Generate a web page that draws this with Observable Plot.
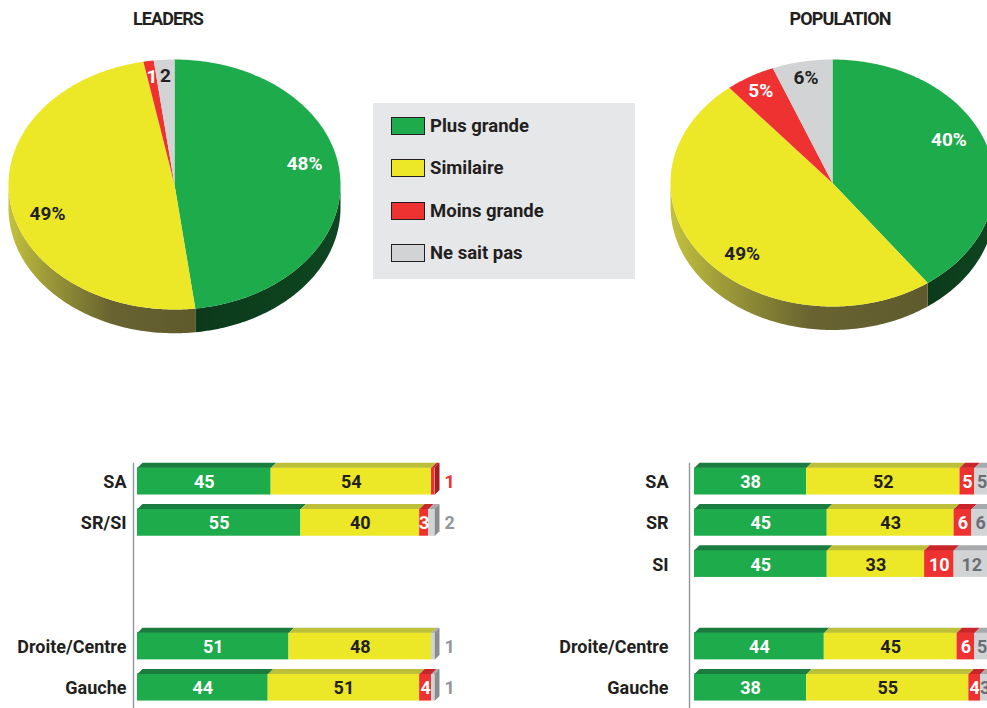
<!DOCTYPE html>
<html>
<head>
<meta charset="utf-8">
<script src="https://cdn.jsdelivr.net/npm/d3@7"></script>
<script src="https://cdn.jsdelivr.net/npm/@observablehq/plot@0.6"></script>
<style>
html, body { margin: 0; padding: 0; background: #fff; width: 987px; height: 708px; overflow: hidden; }
#root { position: relative; width: 987px; height: 708px; font-family: Roboto, "Noto Sans", sans-serif; color: #231f20; }
.abs { position: absolute; }
.title { top: 8px; font-weight: 700; font-size: 18px; letter-spacing: -0.9px; transform: translateX(-50%); white-space: nowrap; line-height: 22px; }
.legend { left: 373px; top: 103px; width: 262px; height: 176px; background: #e6e7e8; }
.item { position: absolute; left: 18px; height: 24px; display: flex; align-items: center; font-weight: 700; font-size: 18.5px; white-space: nowrap; }
.sw { width: 32px; height: 16px; border: 1px solid #231f20; margin-right: 5px; }
svg { overflow: visible; }
</style>
</head>
<body>
<div id="root"></div>
<script>
// ---------- DATA ----------
const categories = ["Plus grande", "Similaire", "Moins grande", "Ne sait pas"];
const pieTitles = ["LEADERS", "POPULATION"];
const pieLeaders = [48, 49, 1, 2];
const piePopulation = [40, 49, 5, 6];

const leadersGroups = [["SA", "SR/SI"], ["Droite/Centre", "Gauche"]];
const leadersPlusGrande   = [45, 55, 51, 44];
const leadersSimilaire    = [54, 40, 48, 51];
const leadersMoinsGrande  = [1, 3, 0, 4];
const leadersNeSaitPas    = [0, 2, 1, 1];

const populationGroups = [["SA", "SR", "SI"], ["Droite/Centre", "Gauche"]];
const populationPlusGrande  = [38, 45, 45, 44, 38];
const populationSimilaire   = [52, 43, 33, 45, 55];
const populationMoinsGrande = [5, 6, 10, 6, 4];
const populationNeSaitPas   = [5, 6, 12, 5, 3];

// ---------- STYLE ----------
const faceColors    = ["#1eab4b", "#ece727", "#ee3131", "#d1d3d4"];
const bevelColors   = ["#1a7c3e", "#bcbf3a", "#c8262b", "#a7a9ac"];
const endColors     = ["#145c2e", "#a9a935", "#a51d22", "#8a8c8e"];
const insideColors  = ["#ffffff", "#231f20", "#ffffff", "#6d6e71"];
const outsideColors = ["#1eab4b", "#231f20", "#ee3131", "#939598"];
const pieLabelColors = ["#ffffff", "#231f20", "#ffffff", "#231f20"];

const root = document.getElementById("root");

function place(el, left, top) {
  el.style.position = "absolute";
  el.style.left = left + "px";
  el.style.top = top + "px";
  root.appendChild(el);
}

// ---------- PIES ----------
function arc(a0, a1, dy) {
  const pts = [];
  const n = Math.max(1, Math.ceil(Math.abs(a1 - a0)));
  for (let i = 0; i <= n; i++) {
    const a = (a0 + (a1 - a0) * i / n) * Math.PI / 180;
    pts.push({x: Math.sin(a), y: Math.cos(a) + dy});
  }
  return pts;
}

function pieChart(values, o) {
  const total = d3.sum(values);
  let acc = 0;
  const slices = values.map((v, i) => {
    const a0 = acc / total * 360; acc += v;
    return {i, v, a0, a1: acc / total * 360};
  });
  const sideFill = [`url(#${o.id}-g)`, `url(#${o.id}-y)`, "#9e1f22", "#8a8c8e"];
  const marks = [];
  for (const s of slices) {
    const b0 = Math.max(s.a0, 90), b1 = Math.min(s.a1, 270);
    if (b1 > b0) {
      const pts = [...arc(b0, b1, 0), ...arc(b1, b0, -o.depth)];
      marks.push(Plot.line(pts, {x: "x", y: "y", fill: sideFill[s.i], stroke: "none"}));
    }
  }
  for (const s of slices) {
    const pts = [{x: 0, y: 0}, ...arc(s.a0, s.a1, 0)];
    marks.push(Plot.line(pts, {x: "x", y: "y", fill: faceColors[s.i], stroke: "none"}));
  }
  const labels = slices.map(s => {
    const big = s.v / total > 0.2;
    const a = ((s.a0 + s.a1) / 2 - (big ? 8 : 0)) * Math.PI / 180;
    const r = big ? 0.8 : 0.87;
    return {x: r * Math.sin(a), y: r * Math.cos(a), text: s.v < 3 ? String(s.v) : s.v + "%", fill: pieLabelColors[s.i]};
  });
  marks.push(Plot.text(labels, {x: "x", y: "y", text: "text", fill: "fill", fontSize: 19, fontWeight: 700}));

  const svg = Plot.plot({
    width: o.width, height: o.height,
    marginLeft: o.ml, marginRight: o.mr, marginTop: o.mt, marginBottom: o.mb,
    x: {domain: [-1, 1], axis: null},
    y: {domain: [-1, 1], axis: null},
    color: {type: "identity"},
    style: {fontFamily: "Roboto, sans-serif", background: "transparent", overflow: "visible"},
    marks
  });
  svg.insertAdjacentHTML("afterbegin", `<defs>
    <linearGradient id="${o.id}-y" x1="0" x2="1" y1="0" y2="0">
      <stop offset="0" stop-color="#c3c23e"/>
      <stop offset="0.2" stop-color="#9d9b38"/>
      <stop offset="0.55" stop-color="#686330"/>
      <stop offset="1" stop-color="#5f5a2d"/>
    </linearGradient>
    <linearGradient id="${o.id}-g" x1="0" x2="1" y1="0" y2="0">
      <stop offset="0" stop-color="#0b3a1a"/>
      <stop offset="1" stop-color="#0f4621"/>
    </linearGradient></defs>`);
  return svg;
}

place(pieChart(pieLeaders, {id: "pl", width: 360, height: 345, ml: 8, mr: 20, mt: 59, mb: 36, depth: 0.19}), 0, 0);
place(pieChart(piePopulation, {id: "pp", width: 360, height: 345, ml: 20, mr: 16, mt: 59, mb: 39, depth: 0.19}), 650, 0);

// titles
[[pieTitles[0], 168], [pieTitles[1], 840]].forEach(([t, cx]) => {
  const d = document.createElement("div");
  d.className = "title";
  d.textContent = t;
  place(d, cx, 8);
});

// legend
const leg = document.createElement("div");
leg.className = "legend abs";
categories.forEach((c, i) => {
  const it = document.createElement("div");
  it.className = "item";
  it.style.top = (11 + i * 42.4) + "px";
  const sw = document.createElement("div");
  sw.className = "sw";
  sw.style.background = faceColors[i];
  const tx = document.createElement("span");
  tx.textContent = c;
  it.appendChild(sw); it.appendChild(tx);
  leg.appendChild(it);
});
place(leg, 373, 103);

// ---------- BARS ----------
function barPanel(groups, series, o) {
  const rows = [];
  groups.forEach((g, gi) => g.forEach((name, j) => rows.push({name, pos: gi * 4 + j})));
  const s = 5 / o.unit, h = 0.33, b = 0.12;
  const faces = [], polys = [], inLabels = [], outLabels = [];
  rows.forEach((r, i) => {
    const vals = series.map(ser => ser[i]);
    const total = d3.sum(vals);
    let x = 0, lastK = -1;
    vals.forEach((v, k) => {
      if (!v) return;
      faces.push({x1: x, x2: x + v, y1: r.pos - h, y2: r.pos + h, fill: faceColors[k]});
      const id = `b${i}-${k}`;
      [[x, r.pos - h], [x + v, r.pos - h], [x + v + s, r.pos - h - b], [x + s, r.pos - h - b]]
        .forEach(([px, py]) => polys.push({x: px, y: py, id, fill: bevelColors[k]}));
      if (v <= 2) outLabels.push({x: total, y: r.pos, text: String(v), fill: outsideColors[k]});
      else inLabels.push({x: x + v / 2, y: r.pos, text: String(v), fill: insideColors[k]});
      x += v; lastK = k;
    });
    const id = `e${i}`;
    [[x, r.pos - h], [x + s, r.pos - h - b], [x + s, r.pos + h - b], [x, r.pos + h]]
      .forEach(([px, py]) => polys.push({x: px, y: py, id, fill: endColors[lastK]}));
  });
  const axisX = -o.axisGap / o.unit;
  return Plot.plot({
    width: o.width, height: 258,
    marginLeft: o.ml, marginRight: o.width - o.ml - 100 * o.unit, marginTop: 0, marginBottom: 0,
    x: {domain: [0, 100], axis: null},
    y: {domain: [-0.75, 5.51], reverse: true, axis: null},
    color: {type: "identity"},
    style: {fontFamily: "Roboto, sans-serif", background: "transparent", overflow: "visible"},
    marks: [
      Plot.ruleX([axisX], {y1: -0.44, y2: 5.51, stroke: "#939598", strokeWidth: 1.4}),
      Plot.rect(faces, {x1: "x1", x2: "x2", y1: "y1", y2: "y2", fill: "fill"}),
      Plot.line(polys, {x: "x", y: "y", z: "id", fill: "fill", stroke: "none"}),
      Plot.text(inLabels, {x: "x", y: "y", text: "text", fill: "fill", fontSize: 18, fontWeight: 700, dy: 1}),
      Plot.text(outLabels, {x: "x", y: "y", text: "text", fill: "fill", fontSize: 18, fontWeight: 700, dy: 1, dx: 10, textAnchor: "start"}),
      Plot.text(rows, {x: axisX, y: "pos", text: "name", textAnchor: "end", dx: o.labelDx, fontSize: 18, fontWeight: 700, fill: "#231f20", dy: 1})
    ]
  });
}

place(barPanel(leadersGroups,
  [leadersPlusGrande, leadersSimilaire, leadersMoinsGrande, leadersNeSaitPas],
  {width: 480, ml: 137, unit: 2.97, axisGap: 4, labelDx: -7}), 0, 450);

place(barPanel(populationGroups,
  [populationPlusGrande, populationSimilaire, populationMoinsGrande, populationNeSaitPas],
  {width: 480, ml: 154, unit: 2.95, axisGap: 5, labelDx: -21}), 540, 450);
</script>
</body>
</html>
